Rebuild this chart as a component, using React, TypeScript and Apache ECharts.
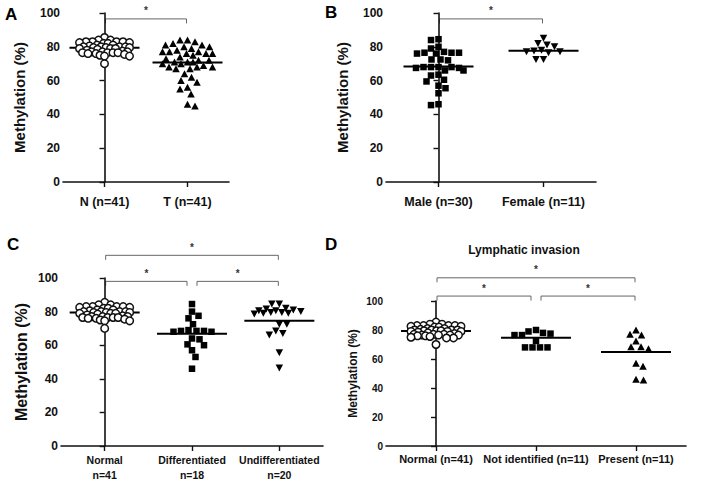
import React, { useEffect, useRef } from "react";
import * as echarts from "echarts";

// ---------- data ----------
const normalValues = [
  85.5, 84, 84, 83, 83, 83, 83, 82.5, 82.5, 82, 82, 81, 81, 80.5, 80, 80, 80,
  80, 79.5, 79.5, 79.5, 79, 79, 79, 78.5, 78, 77.5, 77, 77, 77, 76.5, 76.5,
  76.5, 76.5, 76, 76, 75.5, 75, 74.5, 74.5, 70,
];
const tumourValues = [
  84, 84, 83, 82, 81, 81, 80, 80, 79, 78, 77, 77, 77, 76, 76, 76, 75, 74, 73,
  72, 72, 71, 71, 71, 70, 70, 69, 68, 68, 68, 67, 67, 64, 62, 60, 59, 56, 55,
  52, 46, 45,
];
const maleValues = [
  84.5, 84, 80, 79, 77, 76.5, 76.5, 76.5, 76, 76, 72.5, 72.5, 72, 68, 68, 68,
  68, 67.5, 67.5, 66, 66, 63.5, 63, 60.5, 59.5, 57, 55.5, 52.5, 46, 45.5,
];
const femaleValues = [85, 82, 81, 80, 78, 77.5, 77, 77, 76.5, 72.5, 72.5];
const differentiatedValues = [
  84.5, 80, 77.5, 76, 72.5, 69, 68.5, 68.5, 68.5, 68, 68, 64, 63.5, 60.5, 60,
  57, 53, 46,
];
const undifferentiatedValues = [
  84.5, 84.5, 82, 81.5, 81, 80.5, 80.5, 80, 79.5, 79.5, 79, 79, 78.5, 72.5,
  72.5, 68.5, 67, 66, 55.5, 46.5,
];
const notIdentifiedValues = [80, 79, 78, 77.5, 76.5, 76.5, 72.5, 68, 68, 68, 68];
const presentValues = [80, 77, 76.5, 72.5, 68.5, 68.5, 67, 57, 55, 46, 45.5];

const meansA = [79.5, 70.7];
const meansB = [68.3, 77.6];
const meansC = [79.5, 66.8, 74.6];
const meansD = [79.3, 74.6, 64.8];

const categoriesA = ["N (n=41)", "T (n=41)"];
const categoriesB = ["Male (n=30)", "Female (n=11)"];
const categoriesC = ["Normal\nn=41", "Differentiated\nn=18", "Undifferentiated\nn=20"];
const categoriesD = ["Normal (n=41)", "Not identified (n=11)", "Present (n=11)"];

const yTicks = [0, 20, 40, 60, 80, 100];
const yAxisTitle = "Methylation (%)";
const titleD = "Lymphatic invasion";
const panelLetters = ["A", "B", "C", "D"];

// ---------- styling / layout ----------
const FONT = '"Liberation Sans", Arial, Helvetica, sans-serif';
const INK = "#111";

type Marker = "circle" | "square" | "tri" | "down";
const markerStyle: Record<Marker, any> = {
  circle: { symbol: "circle", symbolSize: 7.5, itemStyle: { color: "#fff", borderColor: INK, borderWidth: 1.5, opacity: 1 }, d: 6.2 },
  square: { symbol: "rect", symbolSize: 6.5, itemStyle: { color: "#000", opacity: 1 }, d: 7.4 },
  tri: { symbol: "triangle", symbolSize: [7.5, 7], itemStyle: { color: "#000", opacity: 1 }, d: 7.4 },
  down: { symbol: "triangle", symbolSize: [7.5, 7], symbolRotate: 180, itemStyle: { color: "#000", opacity: 1 }, d: 7.4 },
};

const panels = [
  {
    grid: { left: 63, top: 13, width: 166, height: 169 },
    categories: categoriesA,
    groups: [
      { values: normalValues, marker: "circle" as Marker },
      { values: tumourValues, marker: "tri" as Marker },
    ],
    means: meansA,
    brackets: [{ from: 0, to: 1, level: 96.5 }],
    tickFont: 12, catFont: 12.5, nameFont: 15, nameGap: 36, catMargin: 12, lineHeight: 15,
  },
  {
    grid: { left: 386, top: 13, width: 210, height: 169 },
    categories: categoriesB,
    groups: [
      { values: maleValues, marker: "square" as Marker },
      { values: femaleValues, marker: "down" as Marker },
    ],
    means: meansB,
    brackets: [{ from: 0, to: 1, level: 96.5 }],
    tickFont: 12, catFont: 12.5, nameFont: 15, nameGap: 36, catMargin: 12, lineHeight: 15,
  },
  {
    grid: { left: 61, top: 278, width: 262, height: 169 },
    categories: categoriesC,
    groups: [
      { values: normalValues, marker: "circle" as Marker },
      { values: differentiatedValues, marker: "square" as Marker },
      { values: undifferentiatedValues, marker: "down" as Marker },
    ],
    means: meansC,
    brackets: [
      { from: 0, to: 1, level: 98 },
      { from: 1, to: 2, level: 98 },
      { from: 0, to: 2, level: 113.5 },
    ],
    tickFont: 12, catFont: 10.5, nameFont: 16, nameGap: 32, catMargin: 6, lineHeight: 15,
  },
  {
    grid: { left: 386, top: 301, width: 300, height: 145 },
    categories: categoriesD,
    groups: [
      { values: normalValues, marker: "circle" as Marker },
      { values: notIdentifiedValues, marker: "square" as Marker },
      { values: presentValues, marker: "tri" as Marker },
    ],
    means: meansD,
    brackets: [
      { from: 0, to: 1, level: 103.4 },
      { from: 1, to: 2, level: 103.4 },
      { from: 0, to: 2, level: 116 },
    ],
    tickFont: 10, catFont: 11, nameFont: 12, nameGap: 27, catMargin: 6, lineHeight: 14,
  },
];

// beeswarm (Prism-like): horizontal pixel offsets, width capped, overlap when crowded
function swarmOffsets(values: number[], pxPerUnit: number, d: number, maxHalf: number): number[] {
  const order = values.map((_, i) => i).sort((a, b) => values[b] - values[a]);
  const placed: { x: number; y: number }[] = [];
  const out = new Array(values.length).fill(0);
  order.forEach((i, n) => {
    const y = values[i] * pxPerUnit;
    const sgn = n % 2 ? -1 : 1;
    let best: number | null = null;
    let bestCand = 0;
    let bestScore = -Infinity;
    for (let k = 0; k < 2000; k++) {
      const cand = k === 0 ? 0 : (k % 2 ? sgn : -sgn) * Math.ceil(k / 2) * 0.5;
      if (Math.abs(cand) > maxHalf) break;
      let minD = Infinity;
      for (const p of placed) {
        const dd = Math.hypot(p.x - cand, p.y - y);
        if (dd < minD) minD = dd;
      }
      if (minD >= d) {
        best = cand;
        break;
      }
      if (minD > bestScore + 0.01) {
        bestScore = minD;
        bestCand = cand;
      }
    }
    const x = best === null ? bestCand : best;
    placed.push({ x, y });
    out[i] = x;
  });
  return out;
}

export default function App() {
  const ref = useRef<HTMLDivElement>(null);
  useEffect(() => {
    if (!ref.current) return;
    const chart = echarts.init(ref.current, null, { renderer: "svg" });
    const n = panels.length;
    const grid: any[] = [];
    const xAxis: any[] = [];
    const yAxis: any[] = [];
    const series: any[] = [];

    panels.forEach((p, k) => {
      grid.push({ ...p.grid, containLabel: false });
      xAxis.push({
        type: "category",
        gridIndex: k,
        data: p.categories,
        boundaryGap: true,
        axisLine: { show: true, lineStyle: { color: INK, width: 1.6 } },
        axisTick: { show: true, alignWithLabel: true, length: 5, lineStyle: { color: INK, width: 1.4 } },
        axisLabel: {
          color: INK, fontFamily: FONT, fontWeight: "bold", fontSize: p.catFont,
          margin: p.catMargin, lineHeight: p.lineHeight, interval: 0,
        },
        splitLine: { show: false },
      });
      yAxis.push({
        type: "value",
        gridIndex: k,
        min: yTicks[0],
        max: yTicks[yTicks.length - 1],
        interval: yTicks[1] - yTicks[0],
        name: yAxisTitle,
        nameLocation: "middle",
        nameRotate: 90,
        nameGap: p.nameGap,
        nameTextStyle: { color: INK, fontFamily: FONT, fontWeight: "bold", fontSize: p.nameFont },
        axisLine: { show: true, lineStyle: { color: INK, width: 1.6 } },
        axisTick: { show: true, length: 5, lineStyle: { color: INK, width: 1.4 } },
        axisLabel: { color: INK, fontFamily: FONT, fontWeight: "bold", fontSize: p.tickFont, margin: 3 },
        splitLine: { show: false },
      });
    });
    panels.forEach((p, k) => {
      xAxis.push({
        type: "value",
        gridIndex: k,
        min: -0.5,
        max: p.categories.length - 0.5,
        show: false,
        splitLine: { show: false },
      });
    });

    panels.forEach((p, k) => {
      const pxPerCat = p.grid.width / p.categories.length;
      const pxPerUnit = p.grid.height / 100;
      const hw = 35 / pxPerCat;
      p.groups.forEach((g, gi) => {
        const ms = markerStyle[g.marker];
        const offs = swarmOffsets(g.values, pxPerUnit, ms.d, 25);
        series.push({
          type: "scatter",
          xAxisIndex: n + k,
          yAxisIndex: k,
          symbol: ms.symbol,
          symbolSize: ms.symbolSize,
          symbolRotate: ms.symbolRotate || 0,
          itemStyle: ms.itemStyle,
          data: g.values.map((v, i) => [gi + offs[i] / pxPerCat, v]),
          z: 3,
          silent: true,
        });
        series.push({
          type: "line",
          xAxisIndex: n + k,
          yAxisIndex: k,
          symbol: "none",
          silent: true,
          z: 2,
          lineStyle: { color: "#000", width: 2 },
          data: [[gi - hw, p.means[gi]], [gi + hw, p.means[gi]]],
        });
      });
    });

    chart.setOption({
      animation: false,
      grid,
      xAxis,
      yAxis,
      series,
    });

    // brackets, stars, letters and the panel D title
    const graphic: any[] = [];
    const BR = "#666";
    panels.forEach((p, k) => {
      const X = (v: number) => chart.convertToPixel({ xAxisIndex: n + k } as any, v) as number;
      const Y = (v: number) => chart.convertToPixel({ yAxisIndex: k } as any, v) as number;
      p.brackets.forEach((b) => {
        const shareLeft = p.brackets.some((o) => o !== b && o.level === b.level && o.to === b.from);
        const shareRight = p.brackets.some((o) => o !== b && o.level === b.level && o.from === b.to);
        const x1 = X(b.from) + (shareLeft ? 5 : 1);
        const x2 = X(b.to) - (shareRight ? 5 : 1);
        const y = Y(b.level);
        graphic.push({
          type: "polyline",
          silent: true,
          shape: { points: [[x1, y + 4.5], [x1, y], [x2, y], [x2, y + 4.5]] },
          style: { stroke: BR, lineWidth: 1, fill: null },
        });
        graphic.push({
          type: "text",
          silent: true,
          x: (x1 + x2) / 2,
          y: y - 3,
          style: { text: "*", fill: "#333", font: `bold 10px ${FONT}`, align: "center", verticalAlign: "bottom" },
        });
      });
    });
    const letterPos = [[5, 6], [325, 4], [7, 236], [325, 236]];
    panelLetters.forEach((L, i) => {
      graphic.push({
        type: "text",
        silent: true,
        x: letterPos[i][0],
        y: letterPos[i][1],
        style: { text: L, fill: "#000", font: `bold 17px ${FONT}`, verticalAlign: "top" },
      });
    });
    graphic.push({
      type: "text",
      silent: true,
      x: 524,
      y: 250,
      style: { text: titleD, fill: INK, font: `bold 12px ${FONT}`, align: "center", verticalAlign: "middle" },
    });
    chart.setOption({ graphic });

    return () => chart.dispose();
  }, []);

  return (
    <div
      ref={ref}
      style={{ position: "fixed", left: 0, top: 0, width: 702, height: 482, background: "#fff" }}
    />
  );
}
